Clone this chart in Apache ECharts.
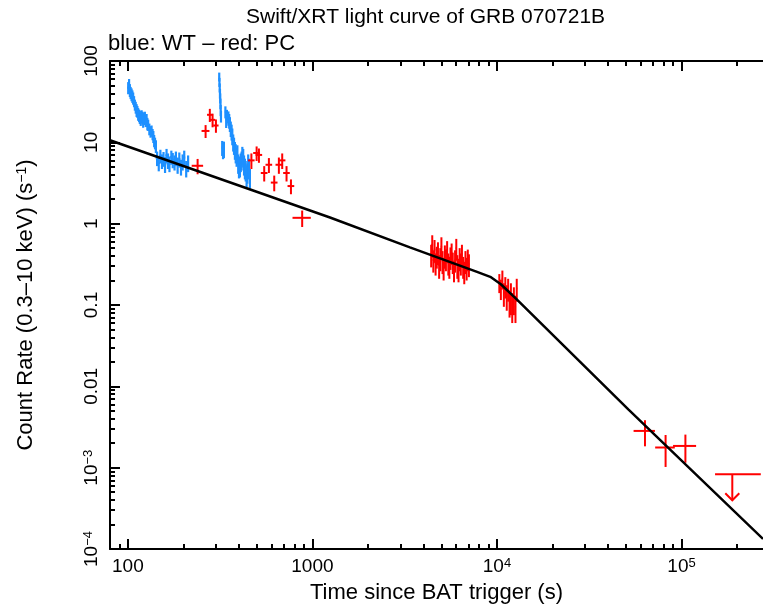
<!DOCTYPE html>
<html>
<head>
<meta charset="utf-8">
<script src="https://cdn.jsdelivr.net/npm/echarts@6/dist/echarts.min.js"></script>
<style>
    html, body { margin: 0; padding: 0; background: #fff; }
    #chart { width: 763px; height: 609px; }
</style>
</head>
<body>
<div id="chart"></div>
<script>
// WT mode (blue) points: [time (s), time err, rate (s^-1), rate err]
var wtData = [
    [100.4, 1.2, 47, 8], [101.5, 1.2, 51, 9], [102.5, 1.2, 44, 8], [103.5, 1.2, 41, 7],
    [104.7, 1.2, 39, 7], [105.8, 1.2, 37, 6.5], [106.8, 1.2, 35, 6], [108.0, 1.2, 32, 5],
    [109.1, 1.2, 29, 4.5], [110.3, 1.2, 27, 4.5], [111.5, 1.2, 25, 4.5], [112.6, 1.2, 24, 4],
    [113.7, 1.2, 22.4, 4], [115.0, 1.2, 21.5, 3.8], [116.1, 1.2, 20.6, 3.8], [117.4, 1.2, 19.5, 3.6],
    [118.7, 1.2, 21.0, 3.8], [119.9, 1.2, 20.2, 3.6], [121.0, 1.2, 18.5, 3.4], [122.3, 1.2, 19.8, 3.5],
    [123.6, 1.2, 20.4, 3.4], [125.0, 1.2, 18.6, 3.2], [126.3, 1.2, 18.9, 3.4], [127.5, 1.2, 17.0, 3.0],
    [128.8, 1.2, 16.4, 2.6], [130.7, 1.2, 14.6, 2.4], [132.7, 1.2, 13.6, 2.2], [134.4, 1.2, 13.9, 2.2],
    [136.1, 1.2, 12.6, 2.0], [137.4, 1.2, 11.8, 2.0], [138.8, 1.2, 10.5, 1.8], [140.3, 1.2, 9.8, 1.6],
    [141.8, 1.2, 9.0, 1.6],
    [144, 2.5, 6.4, 1.3], [147, 2.5, 5.6, 1.2], [150, 2.5, 6.8, 1.3], [153, 2.5, 5.9, 1.2],
    [156, 2.5, 6.3, 1.3], [159, 2.5, 5.4, 1.2], [162, 2.5, 6.9, 1.4], [165, 2.5, 6.0, 1.3],
    [168, 2.5, 5.5, 1.2], [172, 2.5, 6.6, 1.3], [175, 2.5, 6.1, 1.3], [179, 2.5, 5.7, 1.2],
    [182, 2.5, 6.4, 1.3], [186, 2.5, 5.3, 1.2], [190, 2.5, 6.2, 1.3], [194, 2.5, 5.0, 1.1],
    [198, 2.5, 5.8, 1.3], [202, 2.5, 6.5, 1.4], [207, 2.5, 4.8, 1.1], [212, 2.5, 5.6, 1.3],
    [312.6, 1.5, 64, 8], [313.5, 1.5, 55, 7], [314.5, 1.5, 47, 6], [315.5, 1.5, 40, 5.5],
    [316.4, 1.5, 35, 5], [317.4, 1.5, 30, 4.5], [318.4, 1.5, 25, 4], [319.5, 1.5, 21, 3.5],
    [324.4, 2.5, 8.6, 1.8], [327.8, 2.5, 8.0, 1.8], [331.3, 2.5, 8.3, 1.9],
    [337.6, 2.5, 23.7, 4], [341, 2.5, 19, 4], [344, 2.5, 21.1, 4], [350.5, 2.5, 20.0, 4],
    [354, 2.5, 18.5, 3.8], [357.1, 2.5, 16.9, 3.5], [361, 2.5, 14.8, 3.2], [364.8, 2.5, 13.5, 3],
    [368, 2.5, 12, 2.8], [372.2, 2.5, 10.1, 2.4], [376, 2.5, 9.2, 2.2], [380.2, 2.5, 8.1, 2],
    [384, 2.5, 7.5, 2], [388.4, 2.5, 6.8, 1.8], [392, 2.5, 7.3, 1.9], [396.2, 2.5, 5.6, 1.5],
    [400, 2.5, 5.0, 1.4], [404.6, 2.5, 5.2, 1.5], [409, 2.5, 5.8, 1.5], [413.3, 2.5, 6.1, 1.6],
    [417, 2.5, 7.0, 1.8], [421.6, 2.5, 6.6, 1.7], [426, 2.5, 5.4, 1.5], [430.6, 2.5, 4.9, 1.4],
    [435, 2.5, 4.6, 1.3], [439.9, 2.5, 4.0, 1.2], [444, 2.5, 4.3, 1.2], [448.7, 2.5, 5.6, 1.5],
    [453, 2.5, 4.9, 1.4], [458.4, 2.5, 3.7, 1.0]
];

// PC mode (red) points: [time (s), time err, rate (s^-1), rate err]
var pcData = [
    [238.7, 17, 5.15, 1.1], [263.7, 13, 13.8, 2.5], [278, 9.5, 21.8, 4], [287.7, 9.5, 18.9, 3.6],
    [300, 10, 16.1, 3.0], [467, 19, 6.0, 1.3], [498.5, 21, 7.4, 1.5], [513, 21, 7.0, 1.4],
    [548, 23, 4.2, 0.9], [581, 24, 5.3, 1.1], [621, 26, 3.2, 0.7], [658, 27, 5.3, 1.2],
    [686, 28, 6.0, 1.3], [724, 30, 4.2, 0.9], [765, 32, 2.9, 0.6], [880, 100, 1.18, 0.27],
    [4400, 45, 0.42, 0.13], [4460, 45, 0.55, 0.17], [4520, 45, 0.36, 0.11], [4590, 45, 0.48, 0.15],
    [4650, 45, 0.33, 0.10], [4720, 45, 0.40, 0.12], [4790, 45, 0.45, 0.14], [4860, 45, 0.31, 0.10],
    [4930, 45, 0.38, 0.12], [5000, 45, 0.52, 0.16], [5070, 45, 0.35, 0.11], [5140, 45, 0.29, 0.09],
    [5220, 45, 0.41, 0.13], [5290, 45, 0.37, 0.11], [5370, 45, 0.47, 0.14], [5450, 45, 0.33, 0.10],
    [5520, 45, 0.30, 0.09], [5600, 45, 0.39, 0.12], [5680, 45, 0.44, 0.13], [5760, 45, 0.34, 0.10],
    [5850, 45, 0.27, 0.08], [5930, 45, 0.36, 0.11], [6020, 45, 0.50, 0.15], [6100, 45, 0.31, 0.10],
    [6190, 45, 0.28, 0.09], [6280, 45, 0.38, 0.12], [6370, 45, 0.33, 0.10], [6460, 45, 0.42, 0.13],
    [6560, 45, 0.30, 0.09], [6650, 45, 0.26, 0.08], [6750, 45, 0.35, 0.11], [6850, 45, 0.29, 0.09],
    [6950, 45, 0.37, 0.11], [7050, 45, 0.32, 0.10],
    [10300, 90, 0.19, 0.05], [10500, 90, 0.16, 0.045], [10700, 90, 0.21, 0.055], [10900, 90, 0.14, 0.045],
    [11100, 90, 0.17, 0.05], [11300, 90, 0.13, 0.045], [11500, 90, 0.16, 0.05], [11700, 90, 0.11, 0.04],
    [11900, 90, 0.13, 0.055], [12100, 90, 0.10, 0.04], [12350, 90, 0.12, 0.045], [12600, 90, 0.095, 0.035],
    [12800, 90, 0.16, 0.05],
    [63400, 8400, 2.83e-3, 1.0e-3], [82000, 10000, 1.77e-3, 0.75e-3], [1.05e5, 15000, 1.85e-3, 0.7e-3]
];

// PC upper limit: [time (s), bin start, bin stop, rate]
var pcUpperLimit = [[1.885e5, 1.52e5, 2.69e5, 8.3e-4]];

// broken power-law model: [time (s), rate]
var modelLine = [
    [80, 10.6], [1245, 1.19], [3375, 0.512], [7800, 0.255], [9200, 0.222],
    [10500, 0.18], [12800, 0.117], [51500, 0.0052], [2.765e5, 1.33e-4]
];

var xTickValues = [100, 1000, 1e4, 1e5];
var xTickLabels = ['100', '1000', '10{sup|4}', '10{sup|5}'];
var yTickValues = [1e-4, 1e-3, 0.01, 0.1, 1, 10, 100];
var yTickLabels = ['10{sup|\u22124}', '10{sup|\u22123}', '0.01', '0.1', '1', '10', '100'];

var xMin = 80, xMax = 2.765e5;
var yMin = 1e-4, yMax = 100;

var FONT = '"Liberation Sans", Arial, Helvetica, sans-serif';
var supRich = { sup: { fontSize: 13, verticalAlign: 'top', fontFamily: FONT, color: '#000' } };

function minorTicks(lo, hi, min, max) {
    var out = [];
    for (var d = lo; d <= hi; d++) {
        for (var k = 2; k <= 9; k++) {
            var v = k * Math.pow(10, d);
            if (v >= min && v <= max) out.push(v);
        }
    }
    return out;
}
var xMinor = minorTicks(1, 5, xMin, xMax);
var yMinor = minorTicks(-4, 1, yMin, yMax);

function pickLabel(values, labels) {
    return function (v) {
        for (var i = 0; i < values.length; i++) {
            if (Math.abs(Math.log10(v) - Math.log10(values[i])) < 1e-6) return labels[i];
        }
        return '';
    };
}

function errorBars(color, width) {
    return function (params, api) {
        var t = api.value(0), dt = api.value(1), r = api.value(2), dr = api.value(3);
        var lo = r - dr > 0 ? r - dr : r * 0.05;
        var a = api.coord([t - dt, r]), b = api.coord([t + dt, r]);
        var c = api.coord([t, r + dr]), d = api.coord([t, lo]);
        var style = { stroke: color, lineWidth: width };
        return {
            type: 'group',
            children: [
                { type: 'line', shape: { x1: a[0], y1: a[1], x2: b[0], y2: b[1] }, style: style },
                { type: 'line', shape: { x1: c[0], y1: c[1], x2: d[0], y2: d[1] }, style: style }
            ]
        };
    };
}

function upperLimit(params, api) {
    var t = api.value(0), t0 = api.value(1), t1 = api.value(2), r = api.value(3);
    var a = api.coord([t0, r]), b = api.coord([t1, r]), c = api.coord([t, r]);
    var style = { stroke: '#ff0000', lineWidth: 2, fill: null };
    return {
        type: 'group',
        children: [
            { type: 'line', shape: { x1: a[0], y1: a[1], x2: b[0], y2: b[1] }, style: style },
            { type: 'line', shape: { x1: c[0], y1: c[1], x2: c[0], y2: c[1] + 26 }, style: style },
            { type: 'polyline', shape: { points: [[c[0] - 7, c[1] + 19], [c[0], c[1] + 26], [c[0] + 7, c[1] + 19]] }, style: style }
        ]
    };
}

var axisColor = '#000';
function xAxisCfg(position, ticks, len, labels) {
    return {
        type: 'log', logBase: 10, min: xMin, max: xMax, position: position,
        splitLine: { show: false },
        axisLine: { show: labels !== null, onZero: false, lineStyle: { color: axisColor, width: 2 } },
        axisTick: { show: true, inside: true, length: len, customValues: ticks, lineStyle: { color: axisColor, width: 2 } },
        axisLabel: labels ? {
            show: true, customValues: ticks, formatter: pickLabel(xTickValues, xTickLabels),
            color: '#000', fontSize: 19, fontFamily: FONT, margin: 8, rich: supRich
        } : { show: false }
    };
}
function yAxisCfg(position, ticks, len, labels) {
    return {
        type: 'log', logBase: 10, min: yMin, max: yMax, position: position,
        splitLine: { show: false },
        axisLine: { show: labels !== null, onZero: false, lineStyle: { color: axisColor, width: 2 } },
        axisTick: { show: true, inside: true, length: len, customValues: ticks, lineStyle: { color: axisColor, width: 2 } },
        axisLabel: labels ? {
            show: true, customValues: ticks, rotate: 90, formatter: pickLabel(yTickValues, yTickLabels),
            color: '#000', fontSize: 19, fontFamily: FONT, margin: 9, rich: supRich
        } : { show: false }
    };
}

var xMain = xAxisCfg('bottom', xTickValues, 10, true);
xMain.name = 'Time since BAT trigger (s)';
xMain.nameLocation = 'middle';
xMain.nameGap = 33;
xMain.nameTextStyle = { color: '#000', fontSize: 22, fontFamily: FONT };

var yMain = yAxisCfg('left', yTickValues, 10, true);
yMain.name = 'Count Rate (0.3\u201310 keV) (s{sup|\u22121})';
yMain.nameLocation = 'middle';
yMain.nameGap = 73;
yMain.nameRotate = 90;
yMain.nameTextStyle = { color: '#000', fontSize: 22, fontFamily: FONT, rich: { sup: { fontSize: 14, verticalAlign: 'top', fontFamily: FONT, color: '#000' } } };

var myChart = echarts.init(document.getElementById('chart'));
myChart.setOption({
    animation: false,
    backgroundColor: '#fff',
    title: [
        { text: 'Swift/XRT light curve of GRB 070721B', left: 246, top: 7, padding: 0,
          textStyle: { color: '#000', fontSize: 21, fontWeight: 'normal', fontFamily: FONT } },
        { text: 'blue: WT \u2013 red: PC', left: 108, top: 33, padding: 0,
          textStyle: { color: '#000', fontSize: 22, fontWeight: 'normal', fontFamily: FONT } }
    ],
    grid: { left: 110, top: 61, right: 0, height: 489, containLabel: false },
    xAxis: [
        xMain,
        xAxisCfg('bottom', xMinor, 5, null),
        xAxisCfg('top', xTickValues, 10, false),
        xAxisCfg('top', xMinor, 5, null)
    ],
    yAxis: [
        yMain,
        yAxisCfg('left', yMinor, 5, null)
    ],
    series: [
        {
            type: 'custom', name: 'WT', renderItem: errorBars('#1e90ff', 2.2),
            encode: { x: 0, y: 2 }, data: wtData, clip: true, z: 2
        },
        {
            type: 'custom', name: 'PC', renderItem: errorBars('#ff0000', 2),
            encode: { x: 0, y: 2 }, data: pcData, clip: true, z: 3
        },
        {
            type: 'custom', name: 'PC upper limit', renderItem: upperLimit,
            encode: { x: 0, y: 3 }, data: pcUpperLimit, z: 3
        },
        {
            type: 'line', name: 'model', data: modelLine, showSymbol: false, symbol: 'none',
            lineStyle: { color: '#000', width: 2.5 }, z: 4
        }
    ]
});
</script>
</body>
</html>
